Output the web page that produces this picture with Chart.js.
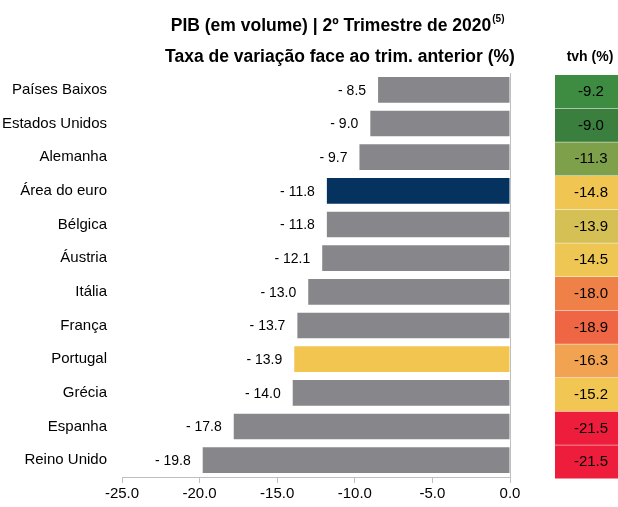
<!DOCTYPE html>
<html>
<head>
<meta charset="utf-8">
<script src="https://cdn.jsdelivr.net/npm/chart.js@4.4.1/dist/chart.umd.min.js"></script>
<style>
  body { margin: 0; background: #fff; }
  #wrap { width: 618px; height: 507px; position: relative; }
</style>
</head>
<body>
<div id="wrap"><canvas id="pibCanvas"></canvas></div>
<script>
// dados
const paises = ["Países Baixos", "Estados Unidos", "Alemanha", "Área do euro", "Bélgica", "Áustria",
    "Itália", "França", "Portugal", "Grécia", "Espanha", "Reino Unido"];
const tcTrim = [-8.5, -9.0, -9.7, -11.8, -11.8, -12.1, -13.0, -13.7, -13.9, -14.0, -17.8, -19.8];
const tvh = [-9.2, -9.0, -11.3, -14.8, -13.9, -14.5, -18.0, -18.9, -16.3, -15.2, -21.5, -21.5];
const corBarra = ["#87878b", "#87878b", "#87878b", "#05325f", "#87878b", "#87878b",
    "#87878b", "#87878b", "#f2c550", "#87878b", "#87878b", "#87878b"];
const corTvh = ["#3e8c42", "#3a7f3e", "#7fa04b", "#f0c552", "#d5c056", "#eec653",
    "#ef8047", "#ef6645", "#f2a352", "#f2c653", "#ee1d3b", "#ee1d3b"];
const titulo1 = "PIB (em volume) | 2º Trimestre de 2020";
const titulo2 = "Taxa de variação face ao trim. anterior (%)";

const fonte = "'Liberation Sans', Arial, sans-serif";

// titulo, rotulos das barras e tabela tvh
const extras = {
    id: "extras",
    afterDatasetsDraw(chart) {
        const ctx = chart.ctx;
        const y = chart.scales.y;
        const meta = chart.getDatasetMeta(0);

        ctx.save();
        // titulo
        ctx.fillStyle = "#000";
        ctx.textAlign = "center";
        ctx.textBaseline = "middle";
        ctx.font = "bold 17.5px " + fonte;
        const w1 = ctx.measureText(titulo1).width;
        ctx.fillText(titulo1, 331, 26);
        ctx.fillText(titulo2, 340, 57);
        ctx.font = "bold 10px " + fonte;
        ctx.textAlign = "left";
        ctx.fillText("(5)", 331 + w1 / 2 + 1, 19);

        // rotulos
        ctx.font = "14px " + fonte;
        ctx.textAlign = "right";
        meta.data.forEach((bar, i) => {
            const v = tcTrim[i];
            ctx.fillText("- " + Math.abs(v).toFixed(1), bar.x - 12, bar.y + 1);
        });

        // tabela tvh
        const passo = y.getPixelForValue(1) - y.getPixelForValue(0);
        ctx.font = "bold 14px " + fonte;
        ctx.textAlign = "center";
        ctx.fillText("tvh (%)", 590, 57);
        ctx.font = "15px " + fonte;
        tvh.forEach((v, i) => {
            const cy = y.getPixelForValue(i);
            ctx.fillStyle = corTvh[i];
            ctx.fillRect(555, cy - passo / 2 + 2, 63, passo - 0.5);
            ctx.fillStyle = "#000";
            ctx.fillText(v.toFixed(1), 591, cy + 2);
        });
        ctx.restore();
    }
};

new Chart(document.getElementById("pibCanvas"), {
    type: "bar",
    data: {
        labels: paises,
        datasets: [{
            data: tcTrim,
            backgroundColor: corBarra,
            borderWidth: 0,
            barPercentage: 0.76,
            categoryPercentage: 1
        }]
    },
    options: {
        indexAxis: "y",
        responsive: true,
        maintainAspectRatio: false,
        animation: false,
        layout: { padding: { top: 73, right: 108, left: 0, bottom: 2 } },
        plugins: {
            legend: { display: false },
            title: { display: false },
            tooltip: { enabled: false }
        },
        scales: {
            x: {
                min: -25,
                max: 0,
                ticks: {
                    stepSize: 5,
                    color: "#000",
                    font: { family: fonte, size: 15 },
                    padding: 2,
                    callback: (v) => v.toFixed(1)
                },
                grid: { display: true, drawOnChartArea: false, drawTicks: true, tickLength: 6, color: "#bfbfbf" },
                border: { display: true, color: "#bfbfbf" }
            },
            y: {
                position: "left",
                afterFit(scale) { scale.width = 122; },
                ticks: {
                    color: "#000",
                    font: { family: fonte, size: 15 },
                    padding: 15
                },
                grid: { display: false, drawTicks: false },
                border: { display: false }
            },
            zero: {
                type: "linear",
                axis: "y",
                position: { x: 0 },
                display: true,
                ticks: { display: false },
                grid: { display: false, drawTicks: false },
                border: { display: true, color: "#bfbfbf", width: 1 }
            }
        }
    },
    plugins: [extras]
});
</script>
</body>
</html>
